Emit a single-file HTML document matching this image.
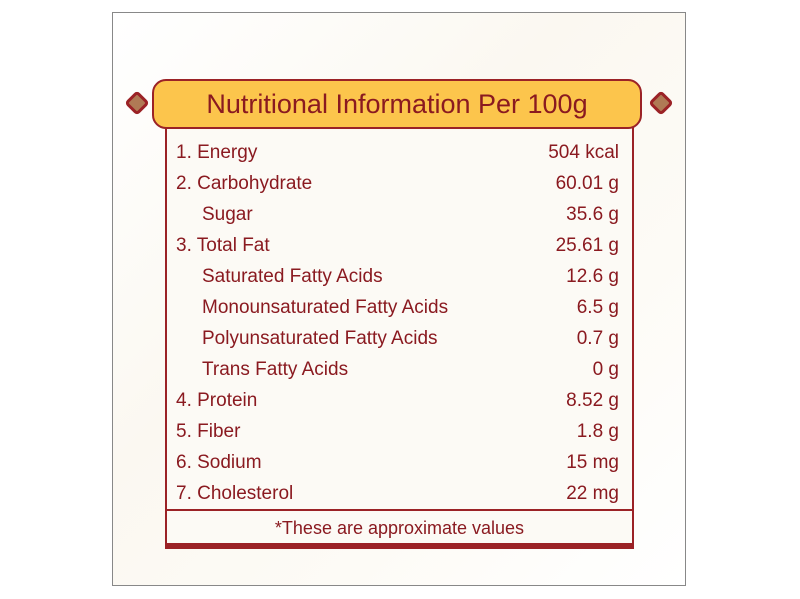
<!DOCTYPE html>
<html><head><style>
body{margin:0;width:800px;height:599px;background:#fff;position:relative;overflow:hidden;font-family:"Liberation Sans",sans-serif;color:#8a1a20}
.frame{position:absolute;left:112px;top:12px;width:572px;height:572px;border:1px solid #888;background:linear-gradient(135deg,#fff 0%,#fbf8f1 40%,#fdfbf6 70%,#fff 100%)}
.box{position:absolute;left:165px;top:120px;width:465px;height:424px;border:2px solid #9b2226;border-top:none;border-bottom:none;background:#fcfaf5}
.banner{position:absolute;left:152px;top:79px;width:486px;height:46px;background:#fcc54c;border:2px solid #9b2226;border-radius:14px;font-size:27px;text-align:center;line-height:46px}
.row{position:absolute;left:176px;width:443px;font-size:19px;height:24px;line-height:24px}
.row span{position:absolute;right:0}
.orn{position:absolute;width:12px;height:12px;background:#b07a55;border:3px solid #9b2226;transform:rotate(45deg);border-radius:4px}
.sep{position:absolute;left:165px;width:469px;height:2px;background:#9b2226;top:509px}
.bot{position:absolute;left:165px;width:469px;height:6px;background:#9b2226;top:543px}
.foot{position:absolute;left:165px;width:469px;top:516px;text-align:center;font-size:18px;line-height:24px}
</style></head><body>
<div class="frame"></div>
<div class="box"></div>
<div class="orn" style="left:128px;top:94px"></div>
<div class="orn" style="left:652px;top:94px"></div>
<div class="banner">Nutritional Information Per 100g</div>
<div class="row" style="top:141px">1. Energy<span>504 kcal</span></div>
<div class="row" style="top:172px">2. Carbohydrate<span>60.01 g</span></div>
<div class="row" style="top:203px;left:202px;width:417px">Sugar<span>35.6 g</span></div>
<div class="row" style="top:234px">3. Total Fat<span>25.61 g</span></div>
<div class="row" style="top:265px;left:202px;width:417px">Saturated Fatty Acids<span>12.6 g</span></div>
<div class="row" style="top:296px;left:202px;width:417px">Monounsaturated Fatty Acids<span>6.5 g</span></div>
<div class="row" style="top:327px;left:202px;width:417px">Polyunsaturated Fatty Acids<span>0.7 g</span></div>
<div class="row" style="top:358px;left:202px;width:417px">Trans Fatty Acids<span>0 g</span></div>
<div class="row" style="top:389px">4. Protein<span>8.52 g</span></div>
<div class="row" style="top:420px">5. Fiber<span>1.8 g</span></div>
<div class="row" style="top:451px">6. Sodium<span>15 mg</span></div>
<div class="row" style="top:482px">7. Cholesterol<span>22 mg</span></div>
<div class="sep"></div>
<div class="foot">*These are approximate values</div>
<div class="bot"></div>
</body></html>
